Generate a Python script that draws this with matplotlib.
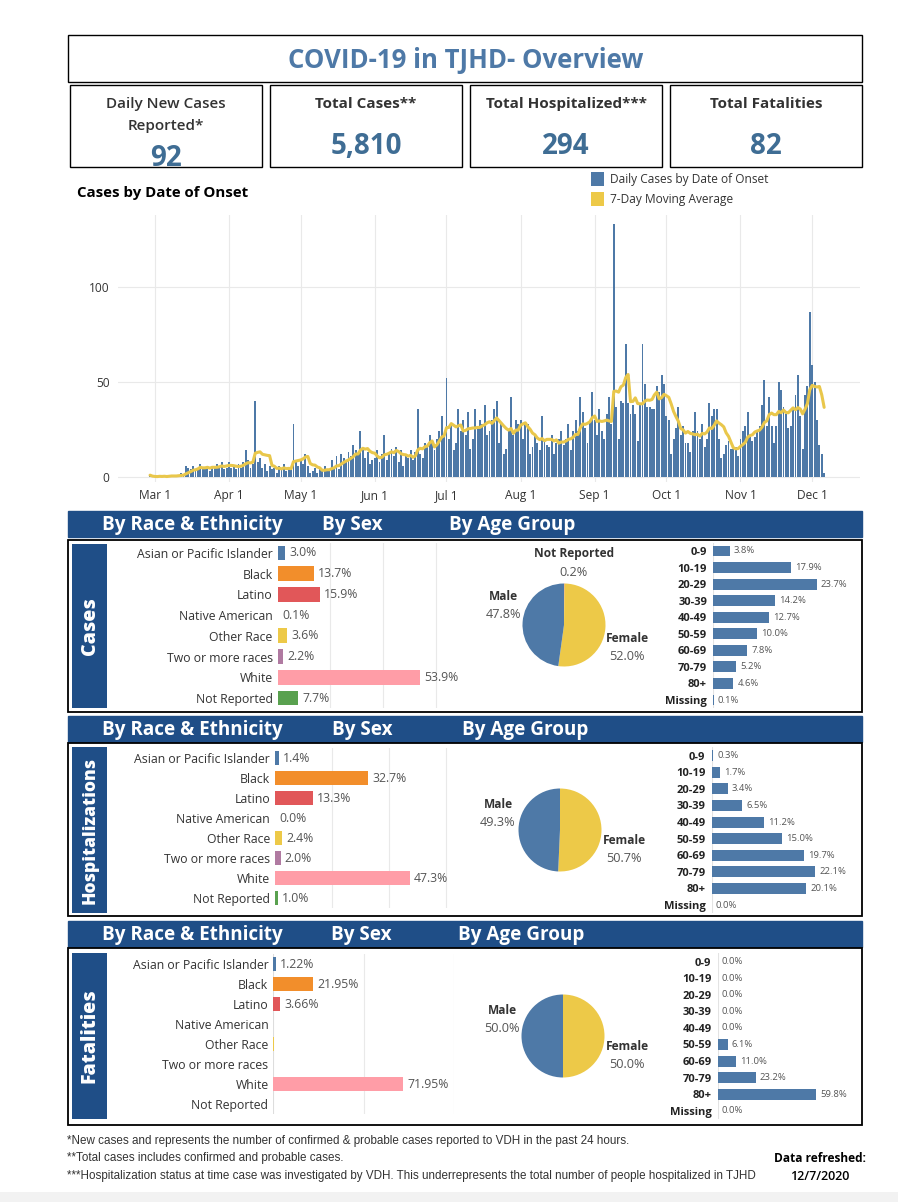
import numpy as np
import pandas as pd
import matplotlib
matplotlib.use("Agg")
import matplotlib.pyplot as plt
from matplotlib import font_manager
from matplotlib.patches import Rectangle

W, H = 898, 1202

# ---- data -------------------------------------------------------------
start_date = "2020-02-28"
cases_feb = [1, 0]
cases_mar = [0, 0, 1, 0, 1, 0, 1, 1, 0, 1, 1, 2, 1, 6, 5, 4, 6, 3, 5, 7, 4, 5, 6, 3, 6, 5, 7, 6, 8, 4, 5]
cases_apr = [8, 5, 6, 4, 7, 5, 8, 14, 9, 5, 7, 40, 8, 10, 5, 7, 3, 6, 4, 5, 2, 6, 4, 7, 3, 5, 4, 28, 8, 6]
cases_may = [9, 7, 12, 6, 2, 3, 5, 2, 4, 3, 6, 4, 3, 9, 5, 11, 4, 12, 10, 8, 13, 11, 17, 14, 12, 24, 15, 10, 13, 7, 9]
cases_jun = [10, 14, 8, 12, 22, 9, 13, 15, 11, 16, 8, 14, 6, 12, 10, 14, 9, 13, 36, 12, 10, 18, 16, 22, 19, 14, 20, 24, 32, 21]
cases_jul = [52, 20, 28, 14, 18, 36, 24, 30, 22, 34, 15, 20, 36, 26, 30, 28, 38, 22, 24, 30, 36, 40, 18, 28, 12, 15, 24, 42, 22, 30, 28]
cases_aug = [30, 20, 28, 28, 12, 16, 22, 18, 14, 32, 20, 17, 16, 22, 12, 18, 20, 24, 17, 20, 28, 14, 24, 30, 24, 42, 34, 26, 18, 30, 45]
cases_sep = [30, 22, 36, 24, 20, 33, 42, 28, 133, 37, 20, 40, 39, 70, 39, 33, 38, 33, 19, 38, 70, 49, 37, 37, 36, 36, 48, 45, 54, 49]
cases_oct = [32, 30, 12, 20, 26, 37, 22, 27, 18, 18, 13, 24, 34, 24, 20, 28, 16, 20, 39, 32, 36, 36, 20, 10, 12, 17, 19, 15, 15, 16, 11]
cases_nov = [20, 24, 27, 34, 21, 19, 21, 24, 27, 38, 51, 27, 42, 27, 18, 27, 50, 46, 37, 33, 26, 27, 36, 43, 54, 32, 15, 43, 48, 87]
cases_dec = [59, 50, 30, 17, 12, 2]

daily_cases = (cases_feb + cases_mar + cases_apr + cases_may + cases_jun + cases_jul
               + cases_aug + cases_sep + cases_oct + cases_nov + cases_dec)
dates = pd.date_range(start_date, periods=len(daily_cases), freq="D")
moving_avg = pd.Series(daily_cases).rolling(7, min_periods=1).mean()

kpi_titles = ["Daily New Cases\nReported*", "Total Cases**", "Total Hospitalized***", "Total Fatalities"]
kpi_values = ["92", "5,810", "294", "82"]

race_labels = ["Asian or Pacific Islander", "Black", "Latino", "Native American",
               "Other Race", "Two or more races", "White", "Not Reported"]
race_colors = ["#4e79a7", "#f28e2b", "#e15759", "#76b7b2", "#edc948", "#b07aa1", "#ff9da7", "#59a14f"]
race_cases = [3.0, 13.7, 15.9, 0.1, 3.6, 2.2, 53.9, 7.7]
race_hosp = [1.4, 32.7, 13.3, 0.0, 2.4, 2.0, 47.3, 1.0]
race_fatal = [1.22, 21.95, 3.66, 0.0, 0.4, 0.0, 71.95, 0.0]
race_fatal_text = ["1.22%", "21.95%", "3.66%", "", "", "", "71.95%", ""]

sex_cases_labels = ["Not Reported", "Female", "Male"]
sex_cases = [0.2, 52.0, 47.8]
sex_labels = ["Female", "Male"]
sex_hosp = [50.7, 49.3]
sex_fatal = [50.0, 50.0]
sex_colors = {"Not Reported": "#e15759", "Female": "#edc948", "Male": "#4e79a7"}

age_labels = ["0-9", "10-19", "20-29", "30-39", "40-49", "50-59", "60-69", "70-79", "80+", "Missing"]
age_cases = [3.8, 17.9, 23.7, 14.2, 12.7, 10.0, 7.8, 5.2, 4.6, 0.1]
age_hosp = [0.3, 1.7, 3.4, 6.5, 11.2, 15.0, 19.7, 22.1, 20.1, 0.0]
age_fatal = [0.0, 0.0, 0.0, 0.0, 0.0, 6.1, 11.0, 23.2, 59.8, 0.0]

footnotes = [
    "*New cases and represents the number of confirmed & probable cases reported to VDH in the past 24 hours.",
    "**Total cases includes confirmed and probable cases.",
    "***Hospitalization status at time case was investigated by VDH. This underrepresents the total number of people hospitalized in TJHD",
]
refreshed = "12/7/2020"

# ---- style --------------------------------------------------------------
names = {f.name for f in font_manager.fontManager.ttflist}
base_font = "Open Sans" if "Open Sans" in names else "DejaVu Sans"
narrow_font = "Liberation Sans Narrow" if "Liberation Sans Narrow" in names else "Liberation Sans"
plt.rcParams["font.family"] = [base_font, "DejaVu Sans"]

BLUE = "#4e79a7"
NAVY = "#1f4e87"
DARK = "#333333"
GREY = "#555555"
GRID = "#e9e9e9"

fig = plt.figure(figsize=(W / 100, H / 100), dpi=100)
fig.patch.set_facecolor("white")

bg = fig.add_axes([0, 0, 1, 1])
bg.set_xlim(0, W)
bg.set_ylim(H, 0)
bg.axis("off")


def px_axes(x0, y0, x1, y1):
    a = fig.add_axes([x0 / W, 1 - y1 / H, (x1 - x0) / W, (y1 - y0) / H])
    a.patch.set_alpha(0)
    return a


def box(x0, y0, x1, y1, fc="none", ec="black", lw=1.0):
    r = Rectangle((x0, y0), x1 - x0, y1 - y0, facecolor=fc, edgecolor=ec, lw=lw)
    bg.add_patch(r)
    return r


# title + KPI boxes
box(68, 35, 862, 82)
bg.text(466, 60, "COVID-19 in TJHD- Overview", ha="center", va="center",
        fontsize=18.5, fontweight="bold", color=BLUE)

kpi_x = [(70, 262), (270, 462), (470, 662), (670, 862)]
for i, ((x0, x1), title, val) in enumerate(zip(kpi_x, kpi_titles, kpi_values)):
    r = box(x0, 85, x1, 167)
    cx = (x0 + x1) / 2
    if i == 0:
        bg.text(cx, 115, title, ha="center", va="center", fontsize=11, color=DARK,
                fontweight="semibold", linespacing=1.65)
        t = bg.text(cx, 159, val, ha="center", va="center", fontsize=20,
                    fontweight="bold", color="#3f6d94")
        t.set_clip_path(r)
    else:
        bg.text(cx, 104, title, ha="center", va="center", fontsize=11,
                fontweight="bold", color=DARK)
        bg.text(cx, 146, val, ha="center", va="center", fontsize=20,
                fontweight="bold", color="#3f6d94")

# cases by date of onset
bg.text(77, 193, "Cases by Date of Onset", ha="left", va="center", fontsize=10.8,
        fontweight="bold", color="black")
box(591, 172, 604, 186, fc=BLUE, ec="none")
box(591, 192, 604, 206, fc="#edc948", ec="none")
bg.text(610, 179, "Daily Cases by Date of Onset", ha="left", va="center", fontsize=8.6, color=DARK)
bg.text(610, 199, "7-Day Moving Average", ha="left", va="center", fontsize=8.6, color=DARK)

ax = px_axes(118, 215, 860, 482)
ax.bar(dates, daily_cases, width=0.8, color=BLUE, zorder=2)
ax.plot(dates, moving_avg, color="#e9c74b", lw=2.2, zorder=3, solid_capstyle="round")
ax.set_xlim(pd.Timestamp("2020-02-14 14:00"), pd.Timestamp("2020-12-21"))
ax.set_ylim(-2.6, 138)
months = pd.date_range("2020-03-01", "2020-12-01", freq="MS")
ax.set_xticks(months)
ax.set_xticklabels([f"{d:%b} {d.day}" for d in months])
ax.set_yticks([0, 50, 100])
ax.grid(True, color=GRID, lw=0.8, zorder=0)
for s in ax.spines.values():
    s.set_visible(False)
ax.tick_params(length=0, labelsize=8.6, labelcolor=DARK)
ax.tick_params(axis="x", pad=5)
ax.tick_params(axis="y", pad=6)

# section panels
sections = [
    dict(head=(511, 537), panel=(540, 712), side=(544, 708), name="Cases", size=14,
         heads=[(102, "By Race & Ethnicity"), (322, "By Sex"), (449, "By Age Group")]),
    dict(head=(716, 742), panel=(743, 916), side=(747, 913), name="Hospitalizations", size=12.6,
         heads=[(102, "By Race & Ethnicity"), (332, "By Sex"), (462, "By Age Group")]),
    dict(head=(921, 947), panel=(948, 1125), side=(953, 1119), name="Fatalities", size=14,
         heads=[(102, "By Race & Ethnicity"), (331, "By Sex"), (458, "By Age Group")]),
]
for sec in sections:
    h0, h1 = sec["head"]
    box(68, h0, 862, h1, fc=NAVY, ec=NAVY)
    for hx, ht in sec["heads"]:
        bg.text(hx, (h0 + h1) / 2 + 1, ht, ha="left", va="center", fontsize=13.6,
                fontweight="bold", color="white")
    p0, p1 = sec["panel"]
    box(68, p0, 862, p1, fc="white", ec="black", lw=1.3)
    s0, s1 = sec["side"]
    box(72, s0, 107, s1, fc=NAVY, ec="none")
    bg.text(90, (s0 + s1) / 2, sec["name"], rotation=90, ha="center", va="center",
            fontsize=sec["size"], fontweight="heavy", color="white")


def race_chart(rect, values, texts, xmax, grid_at):
    a = px_axes(*rect)
    y = np.arange(len(values))
    a.barh(y, values, height=0.72, color=race_colors, zorder=2)
    a.set_xlim(0, xmax)
    a.set_ylim(len(values) - 0.5, -0.5)
    a.set_yticks(y)
    a.set_yticklabels(race_labels)
    a.set_xticks(grid_at)
    a.tick_params(length=0, labelsize=8.8, labelcolor=DARK, pad=3.5)
    a.tick_params(axis="x", labelbottom=False)
    a.grid(True, axis="x", color=GRID, lw=0.8, zorder=0)
    for s in a.spines.values():
        s.set_visible(False)
    for yi, v, t in zip(y, values, texts):
        if t:
            a.annotate(t, (v, yi), xytext=(3, 0), textcoords="offset points",
                       ha="left", va="center", fontsize=8.8, color=GREY)
    return a


race_chart((277.5, 542.6, 468, 708.4), race_cases, [f"{v:.1f}%" for v in race_cases], 72, [20, 40, 60])
race_chart((275, 748, 463, 908), race_hosp, [f"{v:.1f}%" for v in race_hosp], 66, [20, 40, 60])
ra = race_chart((273.3, 954, 454, 1114), race_fatal, race_fatal_text, 100, [50, 100])
ra.axvline(0, color="#dddddd", lw=0.8, zorder=1)


def sex_pie(cx, cy, values, labels):
    r = 41.5
    a = px_axes(cx - r, cy - r, cx + r, cy + r)
    a.pie(values, colors=[sex_colors[l] for l in labels], startangle=90,
          counterclock=False, radius=1, wedgeprops=dict(linewidth=0))
    a.set_xlim(-1, 1)
    a.set_ylim(-1, 1)
    a.set_aspect("equal")
    a.axis("off")


def pie_label(x, y, name, pct):
    bg.text(x, y, name, ha="center", va="center", fontsize=8.6, fontweight="bold", color=DARK)
    bg.text(x, y + 18, pct, ha="center", va="center", fontsize=9.2, color=GREY)


sex_pie(564, 625, sex_cases, sex_cases_labels)
pie_label(574, 554, "Not Reported", "0.2%")
pie_label(503, 597, "Male", "47.8%")
pie_label(627, 638, "Female", "52.0%")

sex_pie(560, 830, sex_hosp, sex_labels)
pie_label(498, 804, "Male", "49.3%")
pie_label(624, 841, "Female", "50.7%")

sex_pie(563, 1036, sex_fatal, sex_labels)
pie_label(502, 1011, "Male", "50.0%")
pie_label(627, 1047, "Female", "50.0%")


def age_chart(rect, values, xmax):
    a = px_axes(*rect)
    y = np.arange(len(values))
    a.barh(y, values, height=0.66, color=BLUE, zorder=2)
    a.set_xlim(0, xmax)
    a.set_ylim(len(values) - 0.5, -0.5)
    a.set_yticks(y)
    a.set_yticklabels(age_labels, fontweight="bold")
    a.set_xticks([])
    a.tick_params(length=0, labelsize=8, labelcolor="#222222", pad=4.5)
    for s in a.spines.values():
        s.set_visible(False)
    a.axvline(0, color="#e3e3e3", lw=0.8, zorder=1)
    for yi, v in zip(y, values):
        a.annotate(f"{v:.1f}%", (v, yi), xytext=(3, 0), textcoords="offset points",
                   ha="left", va="center", fontsize=6.8, color=GREY)


age_chart((713.3, 542.7, 844, 708.3), age_cases, 30)
age_chart((711.7, 747.4, 843, 913.3), age_hosp, 28)
age_chart((717.7, 953.4, 845.7, 1119), age_fatal, 78)

# footer
for i, line in enumerate(footnotes):
    bg.text(67, 1141 + i * 17.5, line, ha="left", va="center", fontsize=8.4,
            color=DARK, family=[narrow_font, "DejaVu Sans"])
bg.text(820, 1158, "Data refreshed:", ha="center", va="center", fontsize=8.6,
        fontweight="bold", color="black")
bg.text(820, 1177, refreshed, ha="center", va="center", fontsize=9,
        fontweight="semibold", color="black")
box(0, 1192, W, H, fc="#f2f2f2", ec="none")

fig.savefig("out.png", dpi=100, facecolor="white")
